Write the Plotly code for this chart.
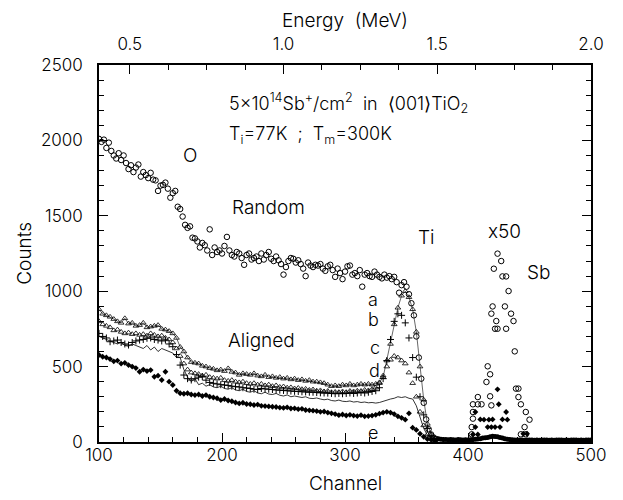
import plotly.graph_objects as go

# ---------------- data ----------------
ch_random = list(range(100, 376, 2))
random_counts = [
    2010, 1990, 2005, 1950, 1985, 1930, 1900, 1880, 1915, 1870,
    1900, 1850, 1810, 1835, 1790, 1820, 1840, 1760, 1790, 1770,
    1750, 1785, 1740, 1735, 1665, 1700, 1705, 1720, 1680, 1620,
    1650, 1665, 1560, 1545, 1495, 1440, 1420, 1430, 1355, 1350,
    1330, 1290, 1320, 1305, 1270, 1410, 1240, 1290, 1260, 1270,
    1250, 1300, 1360, 1270, 1240, 1230, 1260, 1250, 1220, 1175,
    1240, 1250, 1210, 1220, 1230, 1200, 1250, 1210, 1240, 1260,
    1215, 1200, 1230, 1205, 1180, 1110, 1160, 1200, 1220, 1215,
    1190, 1205, 1180, 1150, 1100, 1190, 1170, 1160, 1175, 1170,
    1180, 1150, 1135, 1165, 1175, 1140, 1095, 1150, 1120, 1080,
    1130, 1165, 1170, 1110, 1120, 1100, 1140, 1030, 1110, 1120,
    1100, 1095, 1130, 1110, 1095, 1085, 1110, 1090, 1100, 1080,
    1095, 1060, 990, 1040, 1060, 1030, 980, 920, 840, 700,
    560, 420, 260, 150, 85, 50, 30, 20,
]

ch_aligned = list(range(100, 374, 3))
aligned_a = [
    880, 850, 840, 830, 815, 800, 790, 820, 785, 790,
    770, 775, 790, 760, 765, 770, 775, 750, 745, 735,
    720, 690, 630, 600, 560, 530, 525, 520, 505, 500,
    490, 485, 475, 480, 470, 488, 465, 460, 445, 455,
    450, 445, 455, 440, 435, 445, 430, 435, 425, 430,
    420, 425, 415, 420, 410, 415, 405, 410, 400, 400,
    395, 390, 380, 370, 375, 370, 380, 375, 385, 375,
    380, 385, 380, 385, 380, 385, 395, 430, 540, 650,
    780, 890, 970, 1000, 960, 880, 730, 500, 280, 120,
    50, 25,
]
aligned_b = [
    720, 700, 690, 665, 670, 676, 660, 650, 643, 660,
    670, 676, 680, 688, 690, 680, 676, 670, 676, 650,
    632, 580, 510, 444, 420, 411, 420, 430, 433, 410,
    395, 389, 385, 380, 378, 375, 370, 367, 365, 360,
    358, 355, 350, 348, 355, 352, 350, 348, 345, 344,
    342, 340, 338, 336, 335, 333, 332, 330, 330, 328,
    326, 325, 324, 322, 320, 322, 320, 322, 325, 322,
    325, 328, 325, 330, 335, 340, 360, 420, 540, 680,
    800, 850, 840, 790, 690, 560, 430, 300, 180, 90,
    40, 20,
]
aligned_c = [
    800, 780, 770, 760, 740, 745, 730, 720, 725, 715,
    720, 710, 715, 705, 720, 710, 700, 705, 690, 680,
    660, 620, 570, 520, 480, 460, 455, 450, 440, 445,
    430, 425, 420, 425, 410, 405, 410, 400, 395, 400,
    390, 385, 390, 380, 385, 375, 380, 370, 375, 365,
    368, 360, 362, 355, 358, 350, 352, 345, 348, 340,
    342, 335, 338, 330, 332, 330, 335, 330, 338, 335,
    340, 338, 345, 342, 350, 360, 390, 440, 500, 545,
    570, 560, 540, 520, 460, 390, 300, 200, 110, 50,
    25, 12,
]
aligned_d = [
    700, 690, 680, 675, 660, 650, 660, 640, 635, 650,
    640, 630, 620, 640, 610, 630, 600, 620, 610, 600,
    590, 560, 560, 480, 430, 400, 420, 380, 390, 370,
    380, 365, 360, 370, 355, 350, 360, 345, 340, 350,
    335, 330, 340, 325, 320, 330, 318, 315, 322, 310,
    305, 312, 300, 305, 298, 295, 300, 290, 288, 292,
    285, 280, 284, 275, 272, 278, 270, 268, 272, 265,
    268, 262, 265, 260, 262, 258, 262, 270, 280, 285,
    290, 300, 295, 300, 290, 285, 240, 160, 90, 45,
    25, 15,
]
aligned_e = [
    577, 565, 560, 550, 535, 540, 520, 525, 510, 500,
    490, 466, 480, 470, 477, 433, 440, 411, 466, 400,
    378, 340, 323, 320, 323, 315, 311, 315, 305, 311,
    300, 295, 290, 278, 285, 275, 270, 262, 256, 260,
    252, 250, 245, 248, 240, 238, 236, 234, 232, 228,
    226, 230, 222, 223, 218, 220, 212, 210, 208, 205,
    200, 202, 195, 190, 185, 178, 182, 176, 180, 175,
    172, 178, 170, 172, 175, 180, 188, 195, 200, 195,
    185, 170, 160, 148, 190, 95, 80, 55, 35, 20,
    15, 10,
]

ch_tail = list(range(376, 502, 2))
tail_counts = [
    22, 18, 16, 17, 15, 16, 15, 14, 16, 15,
    14, 15, 14, 15, 16, 18, 20, 22, 26, 28,
    30, 34, 38, 36, 34, 30, 26, 22, 18, 16,
    15, 14, 13, 14, 13, 12, 13, 14, 13, 12,
    13, 12, 13, 14, 13, 12, 13, 12, 13, 14,
    13, 12, 13, 12, 13, 14, 13, 12, 13, 12,
    13, 14, 13,
]

# Sb signal (x50)
sb_random_ch = [403, 403, 404, 404, 404, 408, 411, 408, 415, 418, 416, 418, 419,
                424, 427, 421, 428, 431, 433, 420, 430, 419, 435, 423, 437, 422,
                424, 431, 438, 439, 441, 441, 443, 447, 450, 446, 443, 447]
sb_random_counts = [51, 99, 155, 199, 250, 250, 250, 298, 398, 449, 502, 303, 243,
                    1249, 1200, 1149, 1098, 1098, 1001, 899, 899, 851, 851, 802, 802, 751,
                    751, 751, 601, 354, 354, 298, 250, 199, 148, 99, 51, 51]
sb_aligned_ch = [404, 406, 406, 410, 413, 416, 419, 422, 417, 420, 424, 425, 431,
                 428, 432, 426, 445, 448, 408]
sb_aligned_counts = [50, 199, 99, 150, 148, 99, 99, 99, 148, 150, 349, 250, 199,
                     150, 148, 99, 55, 55, 50]

energy_ticks = [0.5, 1.0, 1.5, 2.0]
energy_labels = ["0.5", "1.0", "1.5", "2.0"]
MEV_PER_CHANNEL = 0.004

# ---------------- figure ----------------
FONT = "Inter, Liberation Sans, sans-serif"
fig = go.Figure()

open_circle = dict(symbol="circle-open", size=5.5, color="black", line=dict(width=1, color="black"))

fig.add_trace(go.Scatter(x=ch_aligned, y=aligned_d, mode="lines",
                         line=dict(color="black", width=0.8)))
fig.add_trace(go.Scatter(x=ch_aligned, y=aligned_e, mode="markers",
                         marker=dict(symbol="diamond", size=4.5, color="black")))
fig.add_trace(go.Scatter(x=ch_aligned, y=aligned_c, mode="markers",
                         marker=dict(symbol="triangle-up-open", size=5, color="black",
                                     line=dict(width=0.8))))
fig.add_trace(go.Scatter(x=ch_aligned, y=aligned_b, mode="markers",
                         marker=dict(symbol="cross-thin-open", size=5, color="black",
                                     line=dict(width=1, color="black"))))
fig.add_trace(go.Scatter(x=ch_aligned, y=aligned_a, mode="lines+markers",
                         line=dict(color="black", width=0.6),
                         marker=dict(symbol="triangle-up-open", size=5, color="black",
                                     line=dict(width=0.8))))
fig.add_trace(go.Scatter(x=ch_random, y=random_counts, mode="markers", marker=open_circle))
fig.add_trace(go.Scatter(x=ch_tail, y=tail_counts, mode="lines+markers",
                         line=dict(color="black", width=3),
                         marker=dict(symbol="circle", size=5, color="black")))
fig.add_trace(go.Scatter(x=sb_random_ch, y=sb_random_counts, mode="markers", marker=open_circle))
fig.add_trace(go.Scatter(x=sb_aligned_ch, y=sb_aligned_counts, mode="markers",
                         marker=dict(symbol="diamond", size=4.5, color="black")))

# invisible trace carrying the energy axis
fig.add_trace(go.Scatter(x=[c * MEV_PER_CHANNEL for c in (100, 500)], y=[0, 0],
                         xaxis="x2", mode="markers", marker=dict(opacity=0),
                         hoverinfo="skip"))

def ann(x, y, text, xanchor="center", size=18):
    fig.add_annotation(x=x, y=y, text=text, showarrow=False, xanchor=xanchor,
                       yanchor="middle",
                       font=dict(family=FONT, size=size, color="black", weight=300))

ann(204, 2248, "5x10<sup>14</sup>Sb<sup>+</sup>/cm<sup>2</sup>  in  ⟨001⟩TiO<sub>2</sub>", "left")
ann(204, 2036, "T<sub>i</sub>=77K  ;  T<sub>m</sub>=300K", "left")
ann(174, 1903, "O", size=19)
ann(238, 1558, "Random", size=19)
ann(366, 1353, "Ti", size=19)
ann(430, 1393, "x50", size=19)
ann(457, 1127, "Sb", size=19)
ann(232, 676, "Aligned", size=19)
ann(323, 946, "a")
ann(323.5, 812, "b")
ann(324, 630, "c")
ann(324, 477, "d")
ann(323, 66, "e")

title_font = dict(family=FONT, size=19, color="black", weight=300)
# axis titles placed relative to the plotting area
fig.add_annotation(xref="paper", yref="paper", x=0.5, y=-0.1088, text="Channel",
                   showarrow=False, xanchor="center", yanchor="middle", font=title_font)
fig.add_annotation(xref="paper", yref="paper", x=0.5, y=1.119, text="Energy  (MeV)",
                   showarrow=False, xanchor="center", yanchor="middle", font=title_font)
fig.add_annotation(xref="paper", yref="paper", x=-0.152, y=0.5, text="Counts",
                   textangle=-90, showarrow=False, xanchor="center", yanchor="middle",
                   font=title_font)

tick_font = dict(family=FONT, size=17, color="black", weight=300)
# the page adds an 8 px body margin, so the figure is drawn 8 px smaller
fig.update_layout(
    width=615, height=492,
    margin=dict(l=91, r=32, t=57, b=58),
    paper_bgcolor="white", plot_bgcolor="white",
    showlegend=False,
    font=tick_font,
    xaxis=dict(range=[100, 500], dtick=100, tick0=100, ticks="inside", ticklen=9,
               tickwidth=1, tickcolor="black", showline=True, linecolor="black",
               linewidth=1.5, mirror=True, showgrid=False, zeroline=False,
               tickfont=tick_font, ticklabelstandoff=-3,
               minor=dict(dtick=20, ticks="inside", ticklen=5, tickcolor="black")),
    xaxis2=dict(overlaying="x", side="top",
                range=[100 * MEV_PER_CHANNEL, 500 * MEV_PER_CHANNEL],
                tickvals=energy_ticks, ticktext=energy_labels,
                ticks="inside", ticklen=9, tickcolor="black", showgrid=False,
                zeroline=False, tickfont=tick_font, ticklabelstandoff=11,
                minor=dict(dtick=0.125, tick0=0.5, ticks="inside", ticklen=5, tickcolor="black")),
    yaxis=dict(range=[0, 2500], dtick=500, ticks="inside", ticklen=9, tickcolor="black",
               showline=True, linecolor="black", linewidth=1.5, mirror="ticks",
               showgrid=False, zeroline=False, tickfont=tick_font, ticklabelstandoff=11,
               minor=dict(dtick=100, ticks="inside", ticklen=5, tickcolor="black")),
)

fig.write_html("out.html")
